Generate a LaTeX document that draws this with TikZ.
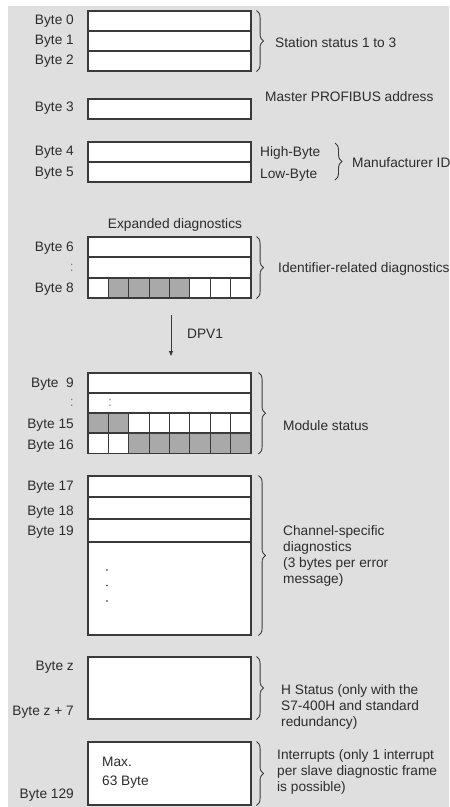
\documentclass[tikz,border=0pt]{standalone}
\usepackage{fontspec}
\setmainfont{Liberation Sans}
\usetikzlibrary{arrows.meta, positioning, decorations.pathreplacing, calc}

\definecolor{bggray}{HTML}{DFDFDF}
\definecolor{cellgray}{HTML}{A9A9A9}
\definecolor{linegray}{HTML}{3A3A3A}
\definecolor{txtgray}{HTML}{2C2C2C}

\begin{document}
\begin{tikzpicture}[
    x=1pt, y=-1pt,
    every node/.style={font=\fontsize{13.7}{16}\selectfont, text=txtgray},
    bytebox/.style={rectangle, draw=linegray, fill=white, line width=1.1pt, minimum width=163pt, minimum height=20pt, inner sep=0pt},
    cell/.style={rectangle, draw=linegray, fill=white, line width=1.1pt, minimum width=20.375pt, minimum height=20pt, inner sep=0pt},
    shaded/.style={cell, fill=cellgray},
    bytelabel/.style={anchor=east, inner sep=0pt},
    note/.style={anchor=west, align=left, inner sep=0pt},
    brace/.style={decorate, decoration={brace, amplitude=7pt}, draw=linegray, line width=0.9pt}
]

\useasboundingbox (0,0) rectangle (450,807);
\fill[bggray] (8,6) rectangle (449,807);

% Station status
\node[bytebox] (b0) at (169.5, 21) {};
\node[bytebox] (b1) at (169.5, 41) {};
\node[bytebox] (b2) at (169.5, 61) {};
\node[bytelabel] (l0) at (74, 21) {Byte 0};
\node[bytelabel] (l1) at (74, 41) {Byte 1};
\node[bytelabel] (l2) at (74, 61) {Byte 2};
\node[note] (station) at (275, 43) {Station status 1 to 3};

% Master address
\node[bytebox] (b3) at (169.5, 109) {};
\node[bytelabel] (l3) at (74, 108) {Byte 3};
\node[note] (master) at (265, 97) {Master PROFIBUS address};

% Manufacturer ID
\node[bytebox] (b4) at (169.5, 152) {};
\node[bytebox] (b5) at (169.5, 172) {};
\node[bytelabel] (l4) at (74, 152) {Byte 4};
\node[bytelabel] (l5) at (74, 173) {Byte 5};
\node[note] (high) at (260, 153) {High-Byte};
\node[note] (low) at (260, 175) {Low-Byte};
\node[note] (manu) at (352, 163) {Manufacturer ID};
\coordinate (mtop) at (335, 143);
\coordinate (mbot) at (335, 180);

% Expanded diagnostics
\node (expanded) at (175, 225) {Expanded diagnostics};
\node[bytebox] (b6) at (169.5, 247) {};
\node[bytebox] (b7) at (169.5, 267.5) {};
\foreach \s [count=\i] in {cell,shaded,shaded,shaded,shaded,cell,cell,cell}
    \node[\s] (c8-\i) at ({88+20.375*(\i-0.5)}, 288) {};
\node[bytelabel] (l6) at (74, 248) {Byte 6};
\node[bytelabel, text=gray] (l7) at (74, 268) {:};
\node[bytelabel] (l8) at (74, 289) {Byte 8};
\node[note] (ident) at (278, 269) {Identifier-related diagnostics};

% DPV1
\coordinate (dpvtop) at (171, 315);
\coordinate (dpvbot) at (171, 356);
\node[note] (dpv) at (187, 334) {DPV1};

% Module status
\node[bytebox] (b9) at (169.5, 383) {};
\node[bytebox] (b10) at (169.5, 403) {};
\foreach \s [count=\i] in {shaded,shaded,cell,cell,cell,cell,cell,cell}
    \node[\s] (c15-\i) at ({88+20.375*(\i-0.5)}, 423) {};
\foreach \s [count=\i] in {cell,cell,shaded,shaded,shaded,shaded,shaded,shaded}
    \node[\s] (c16-\i) at ({88+20.375*(\i-0.5)}, 443.5) {};
\node[text=gray, inner sep=0pt] (dots10) at (110, 403) {:};
\node[bytelabel] (l9) at (74, 384) {Byte \ 9};
\node[bytelabel, text=gray] (l10) at (74, 403) {:};
\node[bytelabel] (l15) at (74, 425) {Byte 15};
\node[bytelabel] (l16) at (74, 446) {Byte 16};
\node[note] (module) at (283, 426) {Module status};

% Channel-specific diagnostics
\node[bytebox, minimum height=21pt] (b17) at (169.5, 486.5) {};
\node[bytebox, minimum height=22pt] (b18) at (169.5, 508) {};
\node[bytebox, minimum height=23pt] (b19) at (169.5, 530.5) {};
\node[bytebox, minimum height=93pt] (brest) at (169.5, 588.5) {};
\fill[txtgray] (107,570) circle (0.9) (107,585.5) circle (0.9) (107,601) circle (0.9);
\node[bytelabel] (l17) at (74, 487) {Byte 17};
\node[bytelabel] (l18) at (74, 512) {Byte 18};
\node[bytelabel] (l19) at (74, 532) {Byte 19};
\node[note] (channel) at (283, 555.5) {Channel-specific\\diagnostics\\(3 bytes per error\\message)};

% H status
\node[bytebox, minimum height=62pt] (bz) at (169.5, 688) {};
\node[bytelabel] (lz) at (74, 667) {Byte z};
\node[bytelabel] (lz7) at (74, 712) {Byte z + 7};
\node[note] (hstatus) at (281, 707) {H Status (only with the\\S7-400H and standard\\redundancy)};

% Interrupts
\node[bytebox, minimum height=63pt] (bint) at (169.5, 773.5) {};
\node[note] (max) at (102, 772.5) {Max.\\[3pt]63 Byte};
\node[bytelabel] (l129) at (74, 795) {Byte 129};
\node[note] (interrupts) at (277, 772) {Interrupts (only 1 interrupt\\per slave diagnostic frame\\is possible)};

% Braces
\draw[brace] ([xshift=5pt]b0.north east) -- ([xshift=5pt]b2.south east);
\draw[brace] (mtop) -- (mbot);
\draw[brace] ([xshift=5pt]b6.north east) -- ([xshift=5pt]c8-8.south east);
\draw[brace] ([xshift=7pt]b9.north east) -- ([xshift=7pt]c16-8.south east);
\draw[brace] ([xshift=7pt]b17.north east) -- ([xshift=7pt]brest.south east);
\draw[brace] ([xshift=5pt]bz.north east) -- ([xshift=5pt]bz.south east);
\draw[brace] ([xshift=5pt]bint.north east) -- ([xshift=5pt]bint.south east);

% Arrow
\draw[linegray, line width=1pt, -{Triangle[length=5pt, width=4pt]}] (dpvtop) -- (dpvbot);

\end{tikzpicture}
\end{document}
